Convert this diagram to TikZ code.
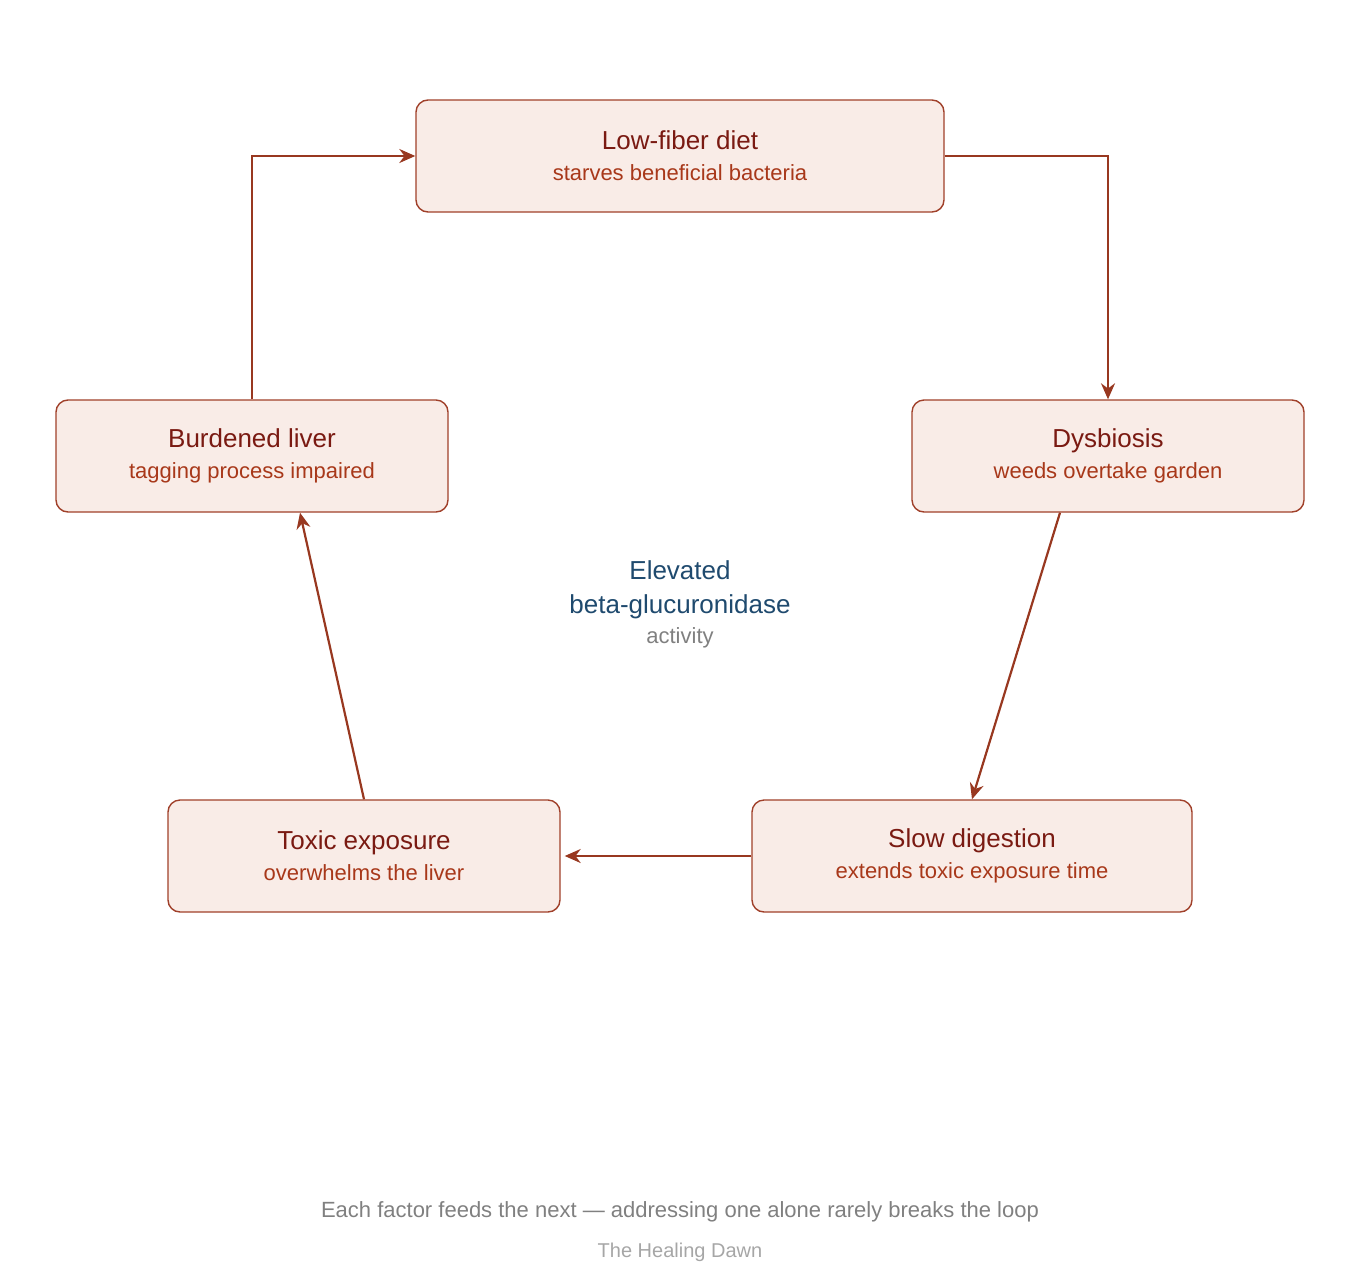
\documentclass[tikz,border=0pt]{standalone}
\usepackage{fontspec}
\setmainfont{Liberation Sans}
\usetikzlibrary{arrows.meta,calc}
\definecolor{boxfill}{HTML}{F9ECE7}
\definecolor{boxline}{HTML}{A0402A}
\definecolor{titlecol}{HTML}{7A1A12}
\definecolor{subcol}{HTML}{A8381A}
\definecolor{arrowcol}{HTML}{983820}
\definecolor{hubcol}{HTML}{1F4A6E}
\newcommand{\bigtxt}{\fontsize{13}{15}\selectfont}
\newcommand{\smalltxt}{\fontsize{11}{13}\selectfont}
\newcommand{\boxtext}[2]{\textcolor{titlecol}{\bigtxt #1}\\[3.5pt]\textcolor{subcol}{\smalltxt #2}}
\tikzset{
  stage/.style={draw=boxline, fill=boxfill, rounded corners=6pt, line width=0.7pt,
    minimum height=56pt, align=center, inner sep=0pt},
  cycle arrow/.style={draw=arrowcol, line width=1.1pt, -{Stealth[length=8pt,width=7pt]}}
}
\begin{document}
\begin{tikzpicture}[x=0.5pt,y=-0.5pt]
\useasboundingbox (0,0) rectangle (1360,1280);
\node [stage, minimum width=264pt] (diet) at (680,156) {\boxtext{Low-fiber diet}{starves beneficial bacteria}};
\node [stage, minimum width=196pt] (dys)  at (1108,456) {\boxtext{Dysbiosis}{weeds overtake garden}};
\node [stage, minimum width=220pt] (slow) at (972,856) {\boxtext{Slow digestion}{extends toxic exposure time}};
\node [stage, minimum width=196pt] (tox)  at (364,856) {\boxtext{Toxic exposure}{overwhelms the liver}};
\node [stage, minimum width=196pt] (liver) at (252,456) {\boxtext{Burdened liver}{tagging process impaired}};
% centre label
\node [align=center] (hub) at (680,604) {\textcolor{hubcol}{\bigtxt Elevated}\\[5pt]\textcolor{hubcol}{\bigtxt beta-glucuronidase}\\[3pt]\textcolor{gray}{\smalltxt activity}};
% the loop
\draw [cycle arrow] (diet.east) -| (dys.north);
\draw [cycle arrow] ([xshift=-24pt]dys.south) -- (slow.north);
\draw [cycle arrow] (slow.west) -- ([xshift=2pt]tox.east);
\draw [cycle arrow] (tox.north) -- ([xshift=24pt]liver.south);
\draw [cycle arrow] (liver.north) |- (diet.west);
% footer
\node [text=gray, font=\smalltxt] (note) at (680,1212) {Each factor feeds the next — addressing one alone rarely breaks the loop};
\node [text=gray!70, font=\fontsize{10}{12}\selectfont] (brand) at (680,1252) {The Healing Dawn};
\end{tikzpicture}
\end{document}
